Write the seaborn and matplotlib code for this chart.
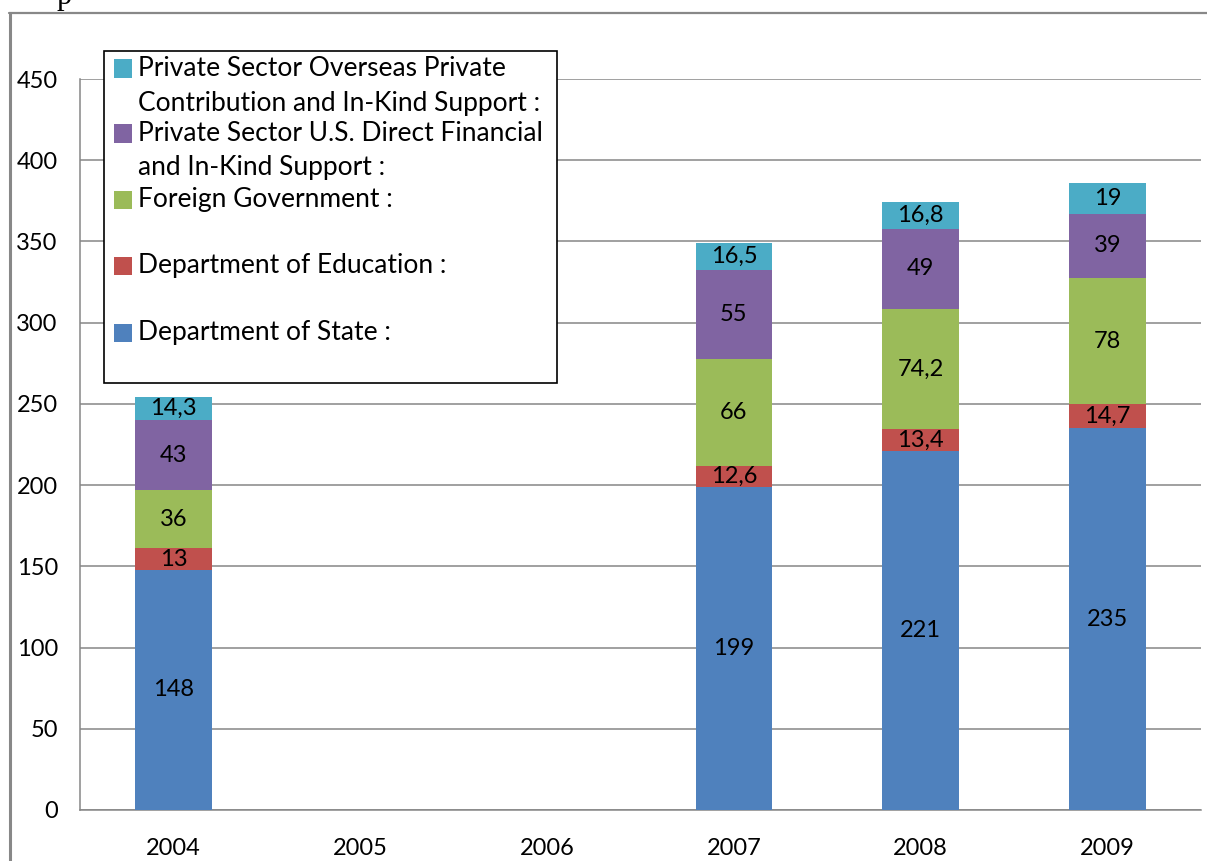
import numpy as np
import pandas as pd
import matplotlib
matplotlib.use("Agg")
import matplotlib.pyplot as plt
from matplotlib.patches import Rectangle
from matplotlib.lines import Line2D
import seaborn as sns

# --- data -------------------------------------------------------------
years = ["2004", "2005", "2006", "2007", "2008", "2009"]
data_years = ["2004", "2007", "2008", "2009"]
dept_state = [148, 199, 221, 235]
dept_education = [13, 12.6, 13.4, 14.7]
foreign_government = [36, 66, 74.2, 78]
private_us = [43, 55, 49, 39]
private_overseas = [14.3, 16.5, 16.8, 19]

series_names = [
    "Department of State :",
    "Department of Education :",
    "Foreign Government :",
    "Private Sector U.S. Direct Financial\nand In-Kind Support :",
    "Private Sector Overseas Private\nContribution and In-Kind Support :",
]
series_values = [dept_state, dept_education, foreign_government,
                 private_us, private_overseas]
colors = ["#4F81BD", "#C0504D", "#9BBB59", "#8064A2", "#4BACC6"]

yticks = [0, 50, 100, 150, 200, 250, 300, 350, 400, 450]

# --- figure -----------------------------------------------------------
sns.set_theme(style="white")
plt.rcParams["font.family"] = ["Lato", "DejaVu Sans"]

W, H = 1207, 861
fig = plt.figure(figsize=(W / 100, H / 100), dpi=100)
fig.patch.set_facecolor("white")


def fx(px):
    return px / W


def fy(py):
    return 1 - py / H


ax = fig.add_axes([fx(80), fy(810), fx(1201) - fx(80), fy(79) - fy(810)])

df = pd.DataFrame({"year": data_years})
for name, vals in zip(series_names, series_values):
    df[name] = vals
cum = df[series_names].cumsum(axis=1)

grid_c = "#868686"
num_fs = 17
# stacked bars: draw cumulative totals from the top series down
for i in range(len(series_names) - 1, -1, -1):
    sns.barplot(x=df["year"], y=cum[series_names[i]], order=years,
                color=colors[i], width=0.41, saturation=1,
                edgecolor="none", linewidth=0, ax=ax, zorder=3)

# value labels centred in each segment
xpos = {y: k for k, y in enumerate(years)}
for i, name in enumerate(series_names):
    for r, yr in enumerate(data_years):
        v = df[name].iloc[r]
        top = cum[name].iloc[r]
        txt = f"{v:g}".replace(".", ",")
        ax.text(xpos[yr], top - v / 2, txt, ha="center", va="center",
                fontsize=num_fs, color="black", zorder=5)

ax.set_xlim(-0.5, 5.5)
ax.set_ylim(0, 450)
ax.set_yticks(yticks)
ax.set_yticklabels([str(t) for t in yticks], fontsize=num_fs, color="black")
ax.set_xticks(range(len(years)))
ax.set_xticklabels(years, fontsize=num_fs, color="black")
ax.set_xticks(np.arange(-0.5, 6.0, 1.0), minor=True)
ax.tick_params(axis="x", which="major", length=0, pad=20)
ax.tick_params(axis="x", which="minor", length=6, width=1.1,
               color=grid_c, direction="out")
ax.tick_params(axis="y", length=6, width=1.1, color=grid_c,
               direction="out", pad=10)
ax.set_xlabel("")
ax.set_ylabel("")
ax.yaxis.grid(True, color=grid_c, linewidth=1.1, zorder=0)
ax.set_axisbelow(True)
for s in ["top", "right"]:
    ax.spines[s].set_visible(False)
for s in ["left", "bottom"]:
    ax.spines[s].set_color(grid_c)
    ax.spines[s].set_linewidth(1.1)
    ax.spines[s].set_zorder(1)

# --- legend box (entries top to bottom, handle beside first line) -----
fig.add_artist(Rectangle((fx(104), fy(383)), fx(557) - fx(104),
                         fy(51) - fy(383), transform=fig.transFigure,
                         facecolor="white", edgecolor="black",
                         linewidth=1.2, zorder=10))
entry_y = [68.5, 133.5, 200, 266, 333]
line_gap = 34.5
for k, i in enumerate(range(len(series_names) - 1, -1, -1)):
    yc = entry_y[k]
    fig.add_artist(Rectangle((fx(114), fy(yc + 9)), fx(18), 18 / H,
                             transform=fig.transFigure,
                             facecolor=colors[i], edgecolor="none",
                             zorder=11))
    for j, line in enumerate(series_names[i].split("\n")):
        fig.text(fx(138), fy(yc + j * line_gap), line, ha="left",
                 va="center", fontsize=19, color="black", zorder=12)

# --- outer frame and heading running off the top edge ----------------
fig.add_artist(Line2D([fx(9.5), fx(9.5)], [fy(13), 0], color="#888888",
                      linewidth=2.2, transform=fig.transFigure))
fig.add_artist(Line2D([fx(9), 1], [fy(13), fy(13)], color="#888888",
                      linewidth=1.6, transform=fig.transFigure))
fig.text(fx(57), fy(4), "p", ha="left", va="baseline", fontsize=22,
         family="Liberation Serif", color="black")

fig.savefig("out.png", dpi=100, facecolor="white")
